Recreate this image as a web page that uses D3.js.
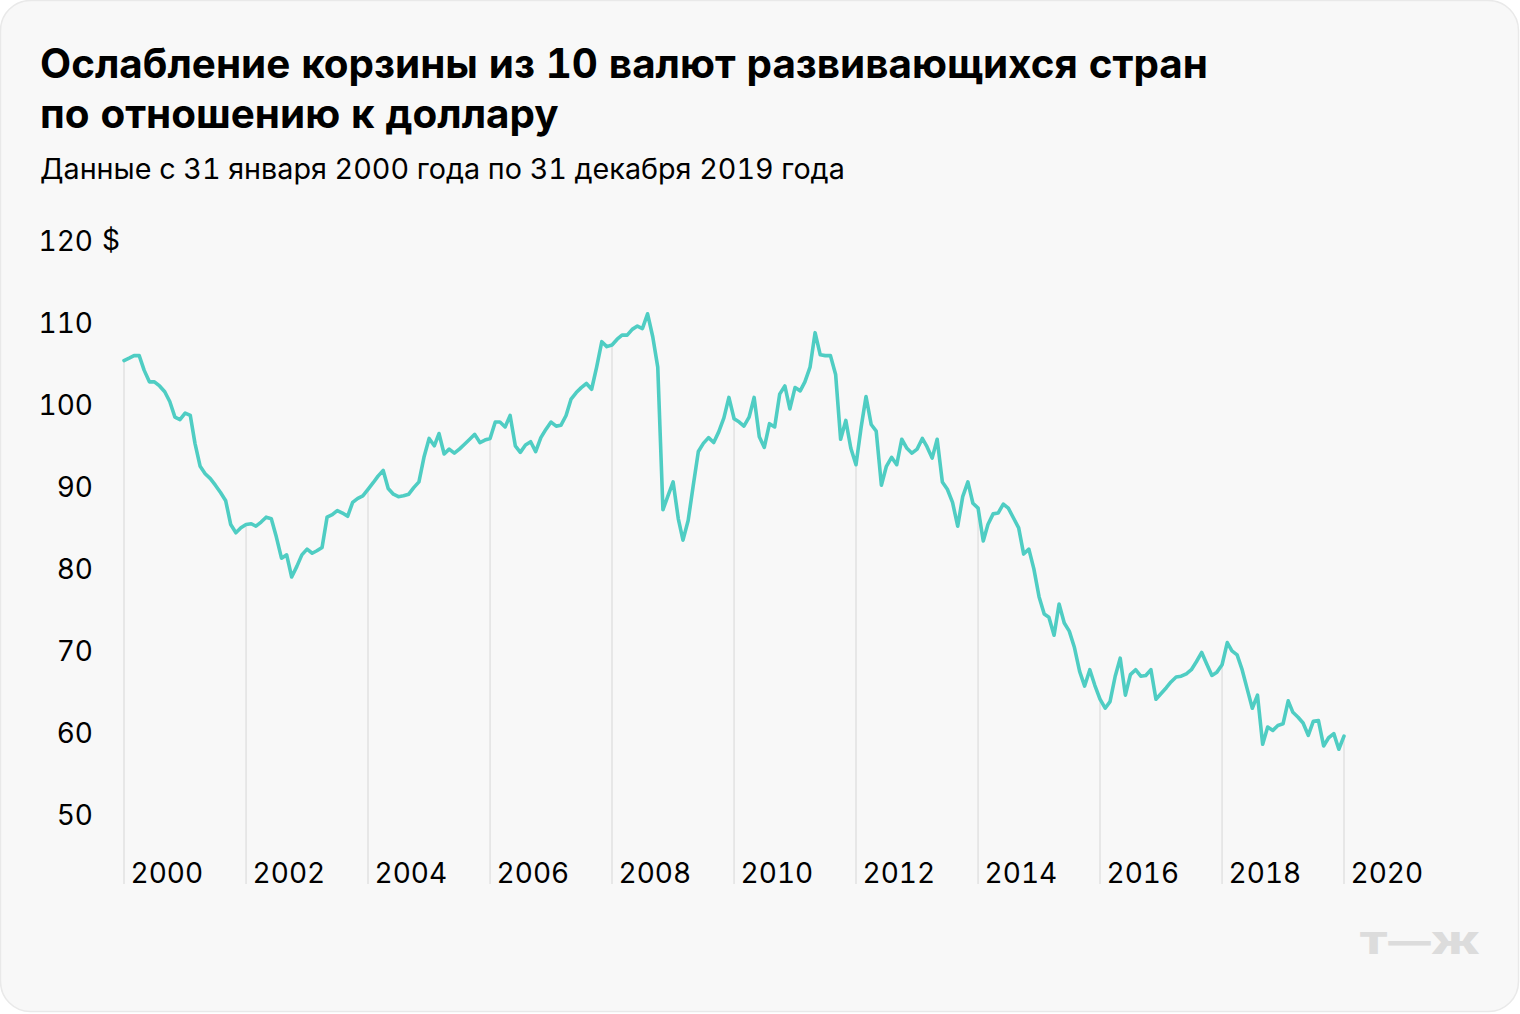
<!DOCTYPE html>
<html><head><meta charset="utf-8">
<script src="https://cdn.jsdelivr.net/npm/d3@7"></script>
<style>
html,body{margin:0;padding:0;background:#ffffff;}
svg{display:block;}
text{font-family:Inter,"Noto Sans",sans-serif;font-variant-numeric:tabular-nums;font-feature-settings:"tnum" 1;}
</style></head>
<body>
<svg id="chart" width="1520" height="1014"></svg>
<script>
// ---- data ----
const titleLines = ["Ослабление корзины из 10 валют развивающихся стран", "по отношению к доллару"];
const subtitle = "Данные с 31 января 2000 года по 31 декабря 2019 года";
const startMonth = "2000-01";
const values = [
105.3,105.6,105.9,105.9,104.1,102.7,102.7,102.2,101.5,100.3,98.4,98.1,
98.9,98.6,95.2,92.4,91.5,90.9,90.1,89.2,88.2,85.3,84.3,84.9,
85.3,85.4,85.1,85.6,86.2,86.0,83.8,81.2,81.6,78.9,80.2,81.6,
82.3,81.8,82.1,82.5,86.2,86.5,87.0,86.7,86.3,88.0,88.5,88.8,
89.6,90.4,91.2,91.9,89.7,89.0,88.7,88.8,89.0,89.8,90.5,93.5,
95.8,94.9,96.4,93.9,94.5,94.0,94.5,95.1,95.7,96.3,95.3,95.6,
95.8,97.8,97.8,97.2,98.6,94.9,94.1,95.0,95.4,94.2,95.9,96.9,
97.8,97.3,97.4,98.6,100.6,101.4,102.0,102.5,101.8,104.5,107.6,107.0,
107.2,107.9,108.4,108.4,109.1,109.5,109.2,111.0,108.2,104.5,87.1,88.8,
90.5,86.0,83.4,85.8,90.0,94.2,95.2,95.9,95.3,96.6,98.3,100.8,
98.2,97.8,97.3,98.4,100.8,96.0,94.7,97.6,97.2,101.2,102.2,99.4,
102.0,101.6,102.7,104.5,108.7,106.0,105.9,105.9,103.6,95.7,98.0,94.6,
92.6,97.2,100.9,97.5,96.7,90.1,92.4,93.5,92.6,95.7,94.6,94.0,
94.5,95.8,94.8,93.4,95.7,90.5,89.6,88.0,85.1,88.7,90.5,87.9,
87.3,83.3,85.3,86.6,86.7,87.8,87.3,86.1,84.9,81.7,82.3,79.9,
76.5,74.4,74.0,71.8,75.6,73.3,72.3,70.3,67.4,65.6,67.6,65.7,
64.0,62.9,63.7,66.8,69.0,64.5,67.0,67.6,66.8,66.9,67.6,64.0,
64.7,65.4,66.1,66.7,66.8,67.1,67.6,68.6,69.7,68.3,66.9,67.3,
68.2,70.9,69.9,69.4,67.6,65.2,62.9,64.5,58.5,60.6,60.2,60.8,
61.0,63.8,62.4,61.8,61.1,59.6,61.3,61.4,58.3,59.3,59.8,57.9,
59.5
];
const yTicks = [50, 60, 70, 80, 90, 100, 110, 120];
const yUnit = "$";
const xTickYears = [2000, 2002, 2004, 2006, 2008, 2010, 2012, 2014, 2016, 2018, 2020];
const logoText = "Т—Ж";

// ---- build ----
const parseMonth = d3.timeParse("%Y-%m");
const t0 = parseMonth(startMonth);
const data = values.map((v, i) => ({date: d3.timeMonth.offset(t0, i), value: v}));

const svg = d3.select("#chart");
const W = 1520, H = 1014;

svg.append("rect").attr("x", 0.5).attr("y", 0.5).attr("width", W - 2).attr("height", H - 3)
  .attr("rx", 30).attr("ry", 30).attr("fill", "#f8f8f8").attr("stroke", "#e9e9e9").attr("stroke-width", 1.5);

// title
function fitText(sel, targetW) {
  const w = sel.node().getComputedTextLength();
  const fs = parseFloat(sel.attr("font-size"));
  sel.attr("font-size", (fs * targetW / w).toFixed(2));
}
const t1 = svg.append("text").attr("x", 40).attr("y", 78).attr("font-size", 40).attr("font-weight", 700)
  .attr("fill", "#000").text(titleLines[0]);
fitText(t1, 1168);
const t2 = svg.append("text").attr("x", 40).attr("y", 128).attr("font-size", t1.attr("font-size")).attr("font-weight", 700)
  .attr("fill", "#000").text(titleLines[1]);
const st = svg.append("text").attr("x", 40).attr("y", 179).attr("font-size", 28).attr("font-weight", 400)
  .attr("fill", "#000").text(subtitle);
fitText(st, 805);

// scales
const x = d3.scaleTime().domain([new Date(2000, 0, 1), new Date(2020, 0, 1)]).range([124, 1344]);
const y = d3.scaleLinear().domain([50, 120]).range([814, 240]);
const baseY = 884;

// vertical grid lines from the line down to base
const byDate = new Map(data.map(d => [+d.date, d.value]));
svg.append("g").selectAll("line").data(xTickYears).join("line")
  .attr("x1", d => x(new Date(d, 0, 1))).attr("x2", d => x(new Date(d, 0, 1)))
  .attr("y1", d => y(byDate.get(+new Date(d, 0, 1))))
  .attr("y2", baseY)
  .attr("stroke", "#e2e2e2").attr("stroke-width", 1.5);

// y axis labels
const yAxis = d3.axisLeft(y).tickValues(yTicks).tickSize(0).tickPadding(0).tickFormat(d3.format("d"));
const gy = svg.append("g").attr("transform", "translate(93,0)").call(yAxis);
gy.select(".domain").remove();
gy.selectAll("text").attr("font-size", 28).attr("fill", "#000").attr("font-family", null)
  .attr("dy", "0.36em");
svg.append("text").attr("x", 102).attr("y", y(yTicks[yTicks.length - 1])).attr("dy", "0.36em")
  .attr("font-size", 28).attr("fill", "#000").text(yUnit);

// x axis labels
const xAxis = d3.axisBottom(x).tickValues(xTickYears.map(yv => new Date(yv, 0, 1))).tickSize(0).tickPadding(0)
  .tickFormat(d3.timeFormat("%Y"));
const gx = svg.append("g").attr("transform", `translate(0,${baseY})`).call(xAxis);
gx.select(".domain").remove();
gx.selectAll("text").attr("font-size", 28).attr("fill", "#000").attr("font-family", null)
  .attr("text-anchor", "start").attr("x", 6).attr("y", -1).attr("dy", 0);

// line
const line = d3.line().x(d => x(d.date)).y(d => y(d.value)).curve(d3.curveLinear);
svg.append("path").datum(data).attr("d", line).attr("fill", "none")
  .attr("stroke", "#4fcdc3").attr("stroke-width", 3.6).attr("stroke-linejoin", "round").attr("stroke-linecap", "round");

// logo
svg.append("text").attr("x", 1359).attr("y", 954).attr("font-size", 30).attr("font-weight", 900)
  .attr("fill", "#dcdcdc").attr("textLength", 121).attr("lengthAdjust", "spacingAndGlyphs").text(logoText);
</script>
</body></html>
